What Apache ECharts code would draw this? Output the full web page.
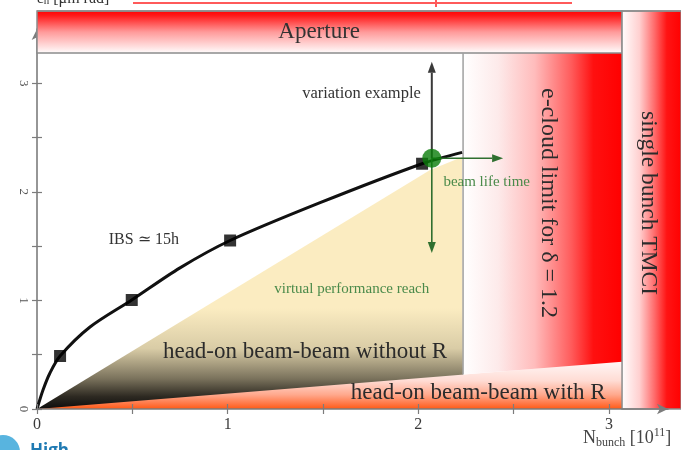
<!DOCTYPE html>
<html>
<head>
<meta charset="utf-8">
<script src="https://cdn.jsdelivr.net/npm/echarts@6/dist/echarts.min.js"></script>
<style>
  html, body { margin: 0; padding: 0; background: #fff; }
  #chart { width: 681px; height: 450px; }
</style>
</head>
<body>
<div id="chart"></div>
<script>
// ---- axis ticks ----------------------------------------------------------
const xTickValues  = [0, 0.5, 1, 1.5, 2, 2.5, 3];
const xLabelValues = [0, 1, 2, 3];
const yTickValues  = [0, 0.5, 1, 1.5, 2, 2.5, 3];
const yLabelValues = [0, 1, 2, 3];

// ---- IBS growth curve: N_bunch [1e11] vs normalised emittance [um rad] ----
const ibsN   = [0, 0.0315, 0.068, 0.121, 0.278, 0.497, 0.750, 1.013, 1.485, 2.020, 2.230];
const ibsEps = [0, 0.175, 0.332, 0.488, 0.755, 1.004, 1.300, 1.552, 1.900, 2.259, 2.364];
const ibsMarkN   = [0.121, 0.497, 1.013, 2.020];
const ibsMarkEps = [0.488, 1.004, 1.552, 2.259];

// ---- working point and its variation directions ----
const workPoint       = [2.071, 2.309];
const variationUpEps  = 3.199;
const lifetimeDownEps = 1.437;
const lifetimeRightN  = 2.445;

// ---- limits ----
const apertureN   = [0, 3.069];
const apertureEps = [3.28, 3.665];
const tmciN       = [3.069, 3.379];
const tmciEps     = [0, 3.665];
const eCloudN     = [2.235, 3.069, 3.069, 2.235];
const eCloudEps   = [3.28, 3.28, 0.435, 0.317];
const withRN      = [0, 3.069, 3.069];
const withREps    = [0, 0.435, 0];
const reachN      = [0, 2.062, 2.230, 2.235];
const reachEps    = [0, 2.201, 2.321, 0];

const SERIF = '"Liberation Serif", "DejaVu Serif", serif';

const chart = echarts.init(document.getElementById('chart'), null, { renderer: 'canvas' });

function lin(x, y, x2, y2, stops) {
  return new echarts.graphic.LinearGradient(x, y, x2, y2,
    stops.map(s => ({ offset: s[0], color: s[1] })));
}

// filled region drawn from vertex arrays through the cartesian scales
function regionSeries(name, ns, eps, fill, stroke) {
  return {
    type: 'custom', name, z: 2, silent: true, clip: false,
    data: [[ns[0], eps[0]]],
    renderItem: (params, api) => ({
      type: 'polygon',
      shape: { points: ns.map((n, i) => api.coord([n, eps[i]])) },
      style: stroke ? { fill, stroke: stroke.color, lineWidth: stroke.width } : { fill }
    })
  };
}

function rectSeries(name, ns, eps, fill, stroke) {
  return regionSeries(name,
    [ns[0], ns[1], ns[1], ns[0]],
    [eps[0], eps[0], eps[1], eps[1]], fill, stroke);
}

function arrowEl(api, from, to, color, width, headLen, headW) {
  const a = api.coord(from), b = api.coord(to);
  const dx = b[0] - a[0], dy = b[1] - a[1];
  const L = Math.hypot(dx, dy), ux = dx / L, uy = dy / L;
  const base = [b[0] - ux * headLen, b[1] - uy * headLen];
  return {
    type: 'group',
    children: [
      { type: 'line', shape: { x1: a[0], y1: a[1], x2: base[0], y2: base[1] },
        style: { stroke: color, lineWidth: width } },
      { type: 'polygon',
        shape: { points: [b,
          [base[0] - uy * headW / 2, base[1] + ux * headW / 2],
          [base[0] + uy * headW / 2, base[1] - ux * headW / 2]] },
        style: { fill: color } }
    ]
  };
}

// annotation texts anchored in data coordinates
const notes = [
  { text: 'Aperture', at: [1.480, 3.475], size: 23, color: '#333' },
  { text: 'variation example', at: [1.702, 2.908], size: 16.5, color: '#333' },
  { text: 'beam life time', at: [2.359, 2.088], size: 15, color: '#4a8a4a' },
  { text: 'IBS \u2243 15h', at: [0.561, 1.557], size: 16, color: '#333' },
  { text: 'virtual performance reach', at: [1.651, 1.105], size: 15, color: '#4a8a4a' },
  { text: 'head-on beam-beam without R', at: [1.406, 0.528], size: 23, color: '#2b2b2b' },
  { text: 'head-on beam-beam with R', at: [2.314, 0.145], size: 23, color: '#2b2b2b' },
  { text: 'e-cloud limit for \u03b4 = 1.2', at: [2.681, 1.897], size: 24, color: '#2b2b2b', rot: -Math.PI / 2 },
  { text: 'single bunch TMCI', at: [3.206, 1.897], size: 23.5, color: '#2b2b2b', rot: -Math.PI / 2 }
];

const GREY = '#8c8c8c';

const option = {
  animation: false,
  backgroundColor: '#fff',
  grid: { left: 37, right: 13, top: 29, bottom: 41 },
  xAxis: [{
    type: 'value', min: 0, max: 3.31, z: 5,
    splitLine: { show: false },
    axisLine: { show: true, onZero: false, symbol: ['none', 'arrow'], symbolSize: [8, 11],
      lineStyle: { color: '#7c7c7c', width: 1.6 } },
    axisTick: { show: true, customValues: xTickValues, length: 5, lineStyle: { color: '#7c7c7c', width: 1.2 } },
    axisLabel: { customValues: xLabelValues, margin: 8, fontFamily: SERIF, fontSize: 16, color: '#3a3a3a' }
  }, {
    type: 'value', min: 0, max: 3.31, position: 'bottom', z: 5,
    splitLine: { show: false }, axisLine: { show: false }, axisLabel: { show: false },
    axisTick: { show: true, inside: true, customValues: xTickValues, length: 5, lineStyle: { color: '#7c7c7c', width: 1.2 } }
  }],
  yAxis: [{
    type: 'value', min: 0, max: 3.5, z: 0,
    splitLine: { show: false },
    axisLine: { show: true, onZero: false, symbol: ['none', 'arrow'], symbolSize: [8, 11],
      lineStyle: { color: '#7c7c7c', width: 1.6 } },
    axisTick: { show: true, customValues: yTickValues, length: 5, lineStyle: { color: '#7c7c7c', width: 1.2 } },
    axisLabel: { customValues: yLabelValues, rotate: -90, margin: 7, fontFamily: SERIF, fontSize: 13, color: '#555' }
  }, {
    type: 'value', min: 0, max: 3.5, position: 'left', z: 0,
    splitLine: { show: false }, axisLine: { show: false }, axisLabel: { show: false },
    axisTick: { show: true, inside: true, customValues: yTickValues, length: 5, lineStyle: { color: '#7c7c7c', width: 1.2 } }
  }],
  series: [
    // performance region reached without R
    regionSeries('reach', reachN, reachEps, lin(0, 0, 0, 1, [
      [0, '#fbecc1'], [0.6, '#fbecc1'], [0.76, '#d9cca6'], [0.88, '#7a725c'], [0.95, '#2e2a22'], [1, '#0c0c0c']
    ])),
    // head-on beam-beam with R
    regionSeries('withR', withRN, withREps, lin(0, 0, 0, 1, [
      [0, '#fff6f6'], [0.4, '#ffdcd4'], [0.7, '#ffa88c'], [0.9, '#ff7440'], [1, '#ff5a14']
    ])),
    // e-cloud limit
    regionSeries('ecloud', eCloudN, eCloudEps, lin(0, 0, 1, 0, [
      [0, '#ffffff'], [0.22, '#fdeaea'], [0.45, '#ffbcbc'], [0.68, '#ff5c5c'], [0.82, '#ff1010'], [1, '#ff0000']
    ])),
    // aperture
    rectSeries('aperture', apertureN, apertureEps, lin(0, 0, 0, 1, [
      [0, '#ff0000'], [0.12, '#ff1a1a'], [0.5, '#ff9a9a'], [1, '#ffffff']
    ]), { color: GREY, width: 1.5 }),
    // single bunch TMCI
    rectSeries('tmci', tmciN, tmciEps, lin(0, 0, 1, 0, [
      [0, '#ffffff'], [0.3, '#ffd0d0'], [0.55, '#ff6a6a'], [0.75, '#ff1414'], [1, '#ff0000']
    ]), { color: GREY, width: 1.5 }),
    // boundary of the e-cloud region
    {
      type: 'custom', name: 'ecloudEdge', z: 2, silent: true, clip: false,
      data: [[eCloudN[0], eCloudEps[0]]],
      renderItem: (params, api) => {
        const a = api.coord([eCloudN[3], eCloudEps[3]]);
        const b = api.coord([eCloudN[0], eCloudEps[0]]);
        return { type: 'line', shape: { x1: a[0], y1: a[1], x2: b[0], y2: b[1] },
          style: { stroke: '#a0a0a0', lineWidth: 1.5 } };
      }
    },
    // IBS curve
    {
      type: 'line', name: 'IBS', z: 4, silent: true,
      data: ibsN.map((n, i) => [n, ibsEps[i]]),
      smooth: 0.3, showSymbol: false,
      lineStyle: { color: '#111', width: 3 }
    },
    {
      type: 'scatter', name: 'IBS points', z: 5, silent: true,
      data: ibsMarkN.map((n, i) => [n, ibsMarkEps[i]]),
      symbol: 'rect', symbolSize: 12, itemStyle: { color: '#000' }
    },
    // variation arrows
    {
      type: 'custom', name: 'arrows', z: 5, silent: true, clip: false,
      data: [workPoint],
      renderItem: (params, api) => ({
        type: 'group',
        children: [
          arrowEl(api, workPoint, [workPoint[0], variationUpEps], '#3a3a3a', 2, 11, 8),
          arrowEl(api, workPoint, [workPoint[0], lifetimeDownEps], '#2f6f2f', 1.6, 11, 8),
          arrowEl(api, workPoint, [lifetimeRightN, workPoint[1]], '#2f6f2f', 1.6, 11, 8)
        ]
      })
    },
    {
      type: 'scatter', name: 'working point', z: 6, silent: true,
      data: [workPoint], symbol: 'circle', symbolSize: 19,
      itemStyle: { color: '#0a7d0a' }
    },
    // texts
    {
      type: 'custom', name: 'notes', z: 7, silent: true, clip: false,
      data: notes.map(n => n.at),
      renderItem: (params, api) => {
        const n = notes[params.dataIndex];
        const p = api.coord(n.at);
        return {
          type: 'text', x: p[0], y: p[1], rotation: n.rot || 0,
          style: { text: n.text, fontFamily: SERIF, fontSize: n.size, fill: n.color,
            align: 'center', verticalAlign: 'middle' }
        };
      }
    }
  ],
  graphic: [
    // top frame line
    { type: 'line', z: 10, shape: { x1: 37, y1: 11, x2: 681, y2: 11 }, style: { stroke: GREY, lineWidth: 1.5 } },
    // clipped header row
    { type: 'line', z: 10, shape: { x1: 133, y1: 3, x2: 572, y2: 3 }, style: { stroke: '#ff5a5a', lineWidth: 2 } },
    { type: 'line', z: 10, shape: { x1: 436, y1: 0, x2: 436, y2: 7 }, style: { stroke: '#ff5a5a', lineWidth: 2 } },
    { type: 'text', z: 10, left: 37, top: -9,
      style: { text: '\u03b5{s|n} [\u03bcm rad]', fontFamily: SERIF, fontSize: 16, fill: '#333',
        rich: { s: { fontSize: 11, fontFamily: SERIF, fill: '#333', verticalAlign: 'bottom', lineHeight: 11 } } } },
    // axis name
    { type: 'text', z: 10, left: 583, top: 427,
      style: { text: 'N{s|bunch} [10{p|11}]', fontFamily: SERIF, fontSize: 18, fill: '#444', lineHeight: 22,
        rich: {
          s: { fontSize: 12, fontFamily: SERIF, fill: '#444', verticalAlign: 'bottom', lineHeight: 12 },
          p: { fontSize: 12, fontFamily: SERIF, fill: '#444', verticalAlign: 'top', lineHeight: 12 }
        } } },
    // corner logo fragment
    { type: 'circle', z: 10, shape: { cx: 3, cy: 452, r: 17 }, style: { fill: '#58b4df' } },
    { type: 'text', z: 10, left: 30, top: 443,
      style: { text: 'High', fontFamily: '"Open Sans", "DejaVu Sans", sans-serif', fontWeight: 'bold', fontSize: 17, fill: '#1f7ab3' } }
  ]
};

chart.setOption(option);
</script>
</body>
</html>
